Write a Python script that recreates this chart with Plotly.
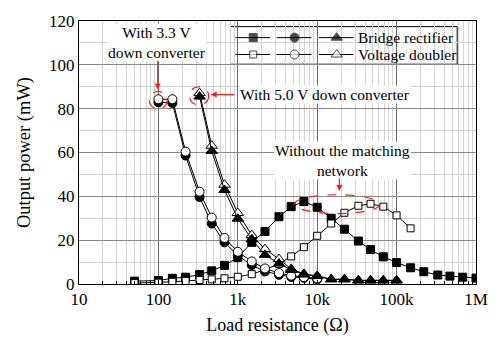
import plotly.graph_objects as go

# Load resistance steps (ohm)
r_full = [50, 100, 150, 220, 330, 470, 680, 1e3, 1.5e3, 2.2e3, 3.3e3, 4.7e3, 6.8e3,
          1e4, 1.5e4, 2.2e4, 3.3e4, 4.7e4, 6.8e4, 1e5, 1.5e5, 2.2e5, 3.3e5, 4.7e5, 6.8e5, 1e6]

# Bridge rectifier, no converter (mW)
bridge_plain = [1.3, 1.6, 2.6, 3.1, 4.3, 6.0, 8.5, 12.1, 19.0, 24.0, 30.7, 35.3, 37.6,
                35.0, 30.0, 25.0, 19.6, 15.7, 12.4, 9.8, 7.4, 5.6, 4.1, 3.6, 3.1, 2.7]

# Voltage doubler, no converter
r_doubler_plain = [50, 100, 150, 220, 330, 470, 680, 1e3, 1.5e3, 2.2e3, 3.3e3, 4.7e3, 6.8e3,
                   1e4, 1.5e4, 2.2e4, 3.3e4, 4.7e4, 6.8e4, 1e5, 1.5e5]
doubler_plain = [0.4, 0.6, 1.0, 1.4, 1.8, 2.1, 2.6, 3.3, 4.5, 6.5, 9.2, 12.6, 16.8,
                 22.0, 27.6, 32.5, 35.7, 36.6, 35.3, 31.3, 25.4]

# With 3.3 V down converter
r_conv33 = [100, 150, 220, 330, 470, 680, 1e3, 1.5e3, 2.2e3, 3.3e3, 4.7e3, 6.8e3, 1e4]
bridge_conv33 = [82.9, 82.6, 58.6, 39.7, 27.6, 19.0, 13.0, 8.6, 5.7, 4.2, 3.2, 2.8, 2.1]
doubler_conv33 = [84.3, 84.3, 60.4, 42.1, 30.3, 21.0, 14.7, 10.3, 7.1, 5.0, 3.8, 3.1, 2.5]

# With 5.0 V down converter
r_conv50 = [330, 470, 680, 1e3, 1.5e3, 2.2e3, 3.3e3, 4.7e3, 6.8e3, 1e4, 1.5e4, 2.2e4,
            3.3e4, 4.7e4, 6.8e4, 1e5]
bridge_conv50 = [85.5, 60.7, 42.9, 29.8, 20.4, 13.3, 9.3, 6.4, 4.3, 3.6, 2.1, 2.1,
                 1.6, 1.6, 1.6, 1.6]
doubler_conv50 = [87.1, 63.1, 45.3, 32.4, 22.3, 15.9, 11.4, 6.9, 4.6, 3.7, 2.2, 2.2,
                  1.7, 1.7, 1.7, 1.7]

x_ticks = [10, 100, 1e3, 1e4, 1e5, 1e6]
x_ticktext = ["10", "100", "1k", "10k", "100k", "1M"]
x_minor = [m * 10 ** d for d in range(1, 6) for m in range(2, 10)]

FONT = "Liberation Serif"
RED = "#ff1a1a"

fig = go.Figure()


def series(x, y, symbol, filled, size):
    fig.add_trace(go.Scatter(
        x=x, y=y, mode="lines+markers", showlegend=False,
        line=dict(color="black", width=1),
        marker=dict(symbol=symbol, size=size,
                    color="black" if filled else "white",
                    line=dict(color="black", width=1)),
    ))


series(r_full, bridge_plain, "square", True, 8)
series(r_doubler_plain, doubler_plain, "square", False, 7)
series(r_conv33, bridge_conv33, "circle", True, 9)
series(r_conv33, doubler_conv33, "circle", False, 9)
series(r_conv50, doubler_conv50, "triangle-up", False, 10)
series(r_conv50, bridge_conv50, "triangle-up", True, 10)

# Legend drawn on an overlay axis measured in pixels
legend_rows = [("Bridge rectifier", True, 32.7), ("Voltage doubler", False, 50.7)]
legend_cols = [("square", 255, 8, 7), ("circle", 296.7, 9, 9), ("triangle-up", 339.3, 10, 10)]
for label, filled, ly in legend_rows:
    for sym, cx, s_fill, s_open in legend_cols:
        fig.add_trace(go.Scatter(
            x=[cx - 18, cx, cx + 17], y=[ly, ly, ly], xaxis="x2", yaxis="y2",
            mode="lines+markers", showlegend=False, hoverinfo="skip",
            line=dict(color="black", width=1),
            marker=dict(symbol=sym, size=[0, s_fill if filled else s_open, 0],
                        color="black" if filled else "white",
                        line=dict(color="black", width=[0, 1, 0])),
        ))

shapes = [
    dict(type="rect", xref="x2", yref="y2", x0=232, x1=461, y0=21, y1=61,
         line=dict(color="black", width=1), fillcolor="white", layer="below"),
    dict(type="circle", xref="x2", yref="y2", x0=150, x1=168, y0=90, y1=108.5,
         line=dict(color=RED, width=1.2, dash="dash")),
    dict(type="circle", xref="x2", yref="y2", x0=190.5, x1=210, y0=85, y1=104.5,
         line=dict(color=RED, width=1.2, dash="dash")),
    dict(type="circle", xref="x2", yref="y2", x0=296.5, x1=383, y0=200, y1=220,
         line=dict(color=RED, width=1.2, dash="dash")),
]

annotations = []
for label, filled, ly in legend_rows:
    annotations.append(dict(x=359, y=ly, xref="x2", yref="y2", text=label,
                            showarrow=False, xanchor="left", yanchor="middle",
                            font=dict(family=FONT, size=15.5, color="black")))

text_boxes = [
    ("With 3.3 V<br>down converter", 158, 38, "center"),
    ("With 5.0 V down converter", 241, 93, "left"),
    ("Without the matching<br>network", 345, 163, "center"),
]
for txt, tx, ty, anchor in text_boxes:
    annotations.append(dict(x=tx, y=ty, xref="x2", yref="y2", text=txt,
                            showarrow=False, xanchor=anchor, yanchor="middle",
                            bgcolor="white", borderpad=0,
                            font=dict(family=FONT, size=15.5, color="black")))

arrows = [(158.5, 88, 0, -30), (212, 93.3, 25, 0), (342, 196, 0, -14)]
for ax_x, ax_y, dx, dy in arrows:
    annotations.append(dict(x=ax_x, y=ax_y, xref="x2", yref="y2", text="",
                            showarrow=True, ax=dx, ay=dy, arrowhead=2,
                            arrowsize=1, arrowwidth=1.2, arrowcolor=RED))

fig.update_layout(
    width=500, height=343,
    margin=dict(l=79, r=20, t=15, b=48),
    paper_bgcolor="white", plot_bgcolor="white",
    font=dict(family=FONT, size=17, color="black"),
    shapes=shapes, annotations=annotations,
    xaxis=dict(
        type="log", range=[1, 6], tickvals=x_ticks, ticktext=x_ticktext,
        showgrid=True, gridcolor="#6e6e6e", gridwidth=1,
        ticks="inside", ticklen=4, tickcolor="black",
        minor=dict(tickvals=x_minor, showgrid=True, gridcolor="#d4d4d4",
                   ticks="inside", ticklen=3, tickcolor="black"),
        showline=True, linecolor="black", linewidth=1, mirror=True,
        zeroline=False,
        title=dict(text="Load resistance (Ω)", font=dict(size=18), standoff=9),
        tickfont=dict(size=17),
    ),
    yaxis=dict(
        range=[0, 120], tickvals=[0, 20, 40, 60, 80, 100, 120],
        showgrid=True, gridcolor="#8a8a8a", gridwidth=1,
        ticks="", minor=dict(dtick=10, showgrid=True, gridcolor="#cfcfcf"),
        showline=True, linecolor="black", linewidth=1, mirror=True,
        zeroline=False,
        title=dict(text="Output power (mW)", font=dict(size=18.5), standoff=13),
        tickfont=dict(size=17),
    ),
    xaxis2=dict(overlaying="x", range=[79, 480], visible=False, fixedrange=True),
    yaxis2=dict(overlaying="y", range=[295, 15], visible=False, fixedrange=True),
)

fig.write_html("out.html")
